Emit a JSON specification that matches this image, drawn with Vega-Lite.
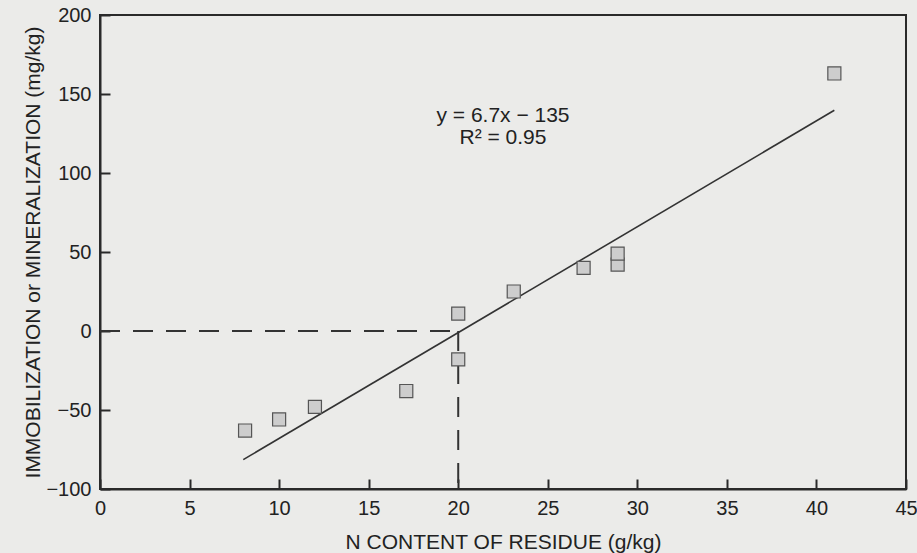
{
  "$schema": "https://vega.github.io/schema/vega-lite/v6.json",
  "width": 806,
  "height": 474,
  "autosize": "none",
  "padding": {"left": 100, "top": 15, "right": 11, "bottom": 64},
  "background": "#ebebe9",
  "config": {
    "view": {"stroke": "#2a2a2a", "strokeWidth": 2},
    "font": "Liberation Sans",
    "axis": {
      "grid": false,
      "domainColor": "#2a2a2a",
      "domainWidth": 2,
      "tickColor": "#2a2a2a",
      "tickWidth": 2,
      "tickSize": -10,
      "labelFont": "Liberation Sans",
      "labelFontSize": 20,
      "labelColor": "#222",
      "titleFont": "Liberation Sans",
      "titleFontSize": 21,
      "titleFontWeight": "normal",
      "titleColor": "#222"
    }
  },
  "datasets": {
    "pts": [
      {"n": 8.1, "v": -63},
      {"n": 10.0, "v": -56},
      {"n": 12.0, "v": -48},
      {"n": 17.1, "v": -38},
      {"n": 20.0, "v": -18},
      {"n": 20.0, "v": 11},
      {"n": 23.1, "v": 25},
      {"n": 27.0, "v": 40},
      {"n": 28.9, "v": 42},
      {"n": 28.9, "v": 49},
      {"n": 41.0, "v": 163}
    ]
  },
  "layer": [
    {
      "data": {"values": [{"a": 0, "b": 20, "y": 0}]},
      "mark": {"type": "rule", "strokeDash": [20, 13], "strokeWidth": 2, "color": "#333"},
      "encoding": {
        "x": {"field": "a", "type": "quantitative", "scale": {"domain": [0, 45], "nice": false}},
        "x2": {"field": "b"},
        "y": {"field": "y", "type": "quantitative", "scale": {"domain": [-100, 200], "nice": false}}
      }
    },
    {
      "data": {"values": [{"x": 20, "a": 0, "b": -100}]},
      "mark": {"type": "rule", "strokeDash": [20, 13], "strokeWidth": 2, "color": "#333"},
      "encoding": {
        "x": {"field": "x", "type": "quantitative"},
        "y": {"field": "a", "type": "quantitative"},
        "y2": {"field": "b"}
      }
    },
    {
      "data": {"values": [{"x1": 8, "y1": -81.4, "x2": 41, "y2": 139.7}]},
      "mark": {"type": "rule", "strokeWidth": 1.6, "color": "#333"},
      "encoding": {
        "x": {"field": "x1", "type": "quantitative"},
        "x2": {"field": "x2"},
        "y": {"field": "y1", "type": "quantitative"},
        "y2": {"field": "y2"}
      }
    },
    {
      "data": {"name": "pts"},
      "mark": {"type": "point", "shape": "square", "size": 170, "filled": true, "fill": "#cdcdcd", "stroke": "#555", "strokeWidth": 1.2, "opacity": 1},
      "encoding": {
        "x": {
          "field": "n", "type": "quantitative",
          "title": "N CONTENT OF RESIDUE (g/kg)",
          "axis": {"values": [0, 5, 10, 15, 20, 25, 30, 35, 40, 45], "labelPadding": 19, "titlePadding": 13, "labelFlush": false}
        },
        "y": {
          "field": "v", "type": "quantitative",
          "title": "IMMOBILIZATION or MINERALIZATION (mg/kg)",
          "axis": {"values": [-100, -50, 0, 50, 100, 150, 200], "labelPadding": 19, "titlePadding": 2}
        }
      }
    },
    {
      "data": {"values": [{"x": 22.5, "y": 136, "t": "y = 6.7x − 135"}, {"x": 22.5, "y": 122, "t": "R² = 0.95"}]},
      "mark": {"type": "text", "fontSize": 21, "color": "#222", "align": "center", "baseline": "middle"},
      "encoding": {
        "x": {"field": "x", "type": "quantitative"},
        "y": {"field": "y", "type": "quantitative"},
        "text": {"field": "t"}
      }
    }
  ]
}
